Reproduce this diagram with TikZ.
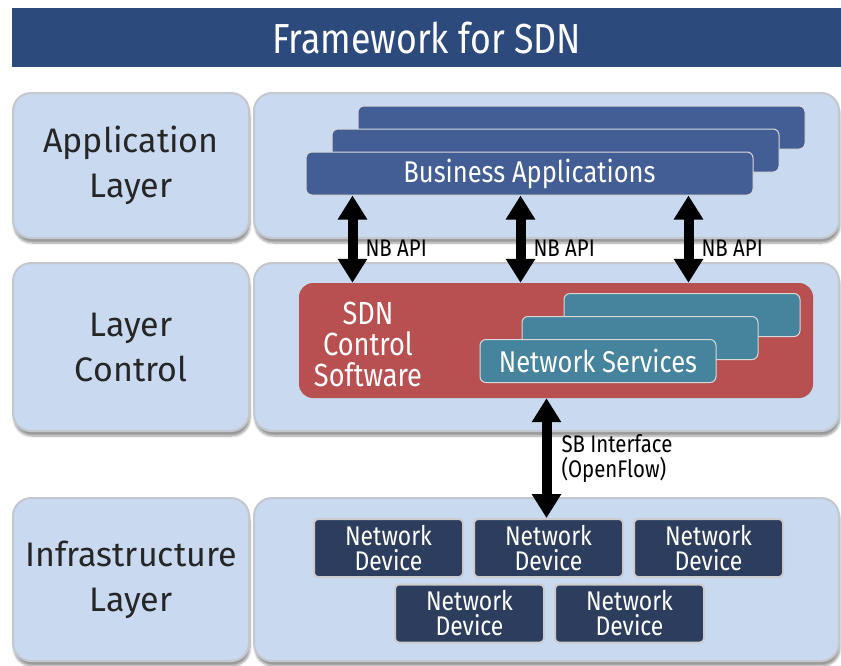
\documentclass[tikz,border=0pt]{standalone}
\usepackage{fontspec}
\setmainfont{Fira Sans}
\newfontfamily\narrowfont{Fira Sans}[FakeStretch=0.85]
\usepackage{tikz}
\usetikzlibrary{arrows.meta, positioning, calc, shadows.blur}
\definecolor{titleblue}{HTML}{2D4A7D}
\definecolor{layerfill}{HTML}{C9D9F0}
\definecolor{layerline}{HTML}{C4C8CE}
\definecolor{appblue}{HTML}{425E94}
\definecolor{ctrlred}{HTML}{B85052}
\definecolor{svcteal}{HTML}{45849C}
\definecolor{devnavy}{HTML}{2C3D5E}
\tikzstyle{layer} = [rectangle, rounded corners=18pt, draw=layerline, line width=2pt, fill=layerfill, blur shadow={shadow xshift=1pt, shadow yshift=-5pt, shadow opacity=40, shadow blur steps=6}, anchor=north west, align=center, text=black!85, font=\fontsize{34}{45}\selectfont]
\tikzstyle{card} = [rectangle, rounded corners=6pt, draw=white!70!gray, line width=1pt, minimum height=43pt, text=white, font=\narrowfont\fontsize{30}{32}\selectfont]
\tikzstyle{device} = [rectangle, rounded corners=4pt, draw=gray!40, line width=2pt, fill=devnavy, minimum width=149pt, minimum height=58pt, align=center, text=white, font=\narrowfont\fontsize{27}{25}\selectfont]
\tikzstyle{bigarrow} = [line width=10pt, {Triangle[width=28pt,length=24pt]}-{Triangle[width=28pt,length=24pt]}]
\tikzstyle{note} = [font=\narrowfont\fontsize{24}{25}\selectfont, align=left, inner sep=2pt]

\begin{document}
\begin{tikzpicture}[x=1pt, y=-1pt]
  \useasboundingbox (0,0) rectangle (841,665);
  \node[fill=titleblue, minimum width=829pt, minimum height=59pt, anchor=north west, text=white, font=\narrowfont\fontsize{42}{44}\selectfont] (title) at (12,8) {Framework for SDN};

  % layers
  \node[layer, minimum width=236pt, minimum height=145pt] (appL) at (12,92) {Application\\Layer};
  \node[layer, minimum width=585pt, minimum height=145pt] (appR) at (253,92) {};
  \node[layer, minimum width=236pt, minimum height=168pt] (ctlL) at (12,262) {Layer\\Control};
  \node[layer, minimum width=585pt, minimum height=168pt] (ctlR) at (253,262) {};
  \node[layer, minimum width=236pt, minimum height=163pt] (infL) at (12,497) {Infrastructure\\Layer};
  \node[layer, minimum width=585pt, minimum height=163pt] (infR) at (253,497) {};

  % application cards
  \node[card, fill=appblue, minimum width=447pt] (ba3) at (581.5,127.5) {};
  \node[card, fill=appblue, minimum width=447pt] (ba2) at ([shift={(-26,23)}]ba3.center) {};
  \node[card, fill=appblue, minimum width=447pt] (ba) at ([shift={(-26,23)}]ba2.center) {Business Applications};

  % control software
  \node[rectangle, rounded corners=14pt, fill=ctrlred, minimum width=514pt, minimum height=115pt] (sdn) at (556,340.5) {};
  \node[text=white, align=center, font=\narrowfont\fontsize{32}{31}\selectfont] (sdntxt) at (368,344) {SDN\\Control\\Software};
  \node[card, fill=svcteal, minimum width=236pt] (ns3) at (682,315) {};
  \node[card, fill=svcteal, minimum width=236pt] (ns2) at ([shift={(-42,23)}]ns3.center) {};
  \node[card, fill=svcteal, minimum width=236pt] (ns) at ([shift={(-42,23)}]ns2.center) {Network Services};

  % devices
  \node[device] (dev2) at (548.5,548) {Network\\Device};
  \node[device, left=9pt of dev2] (dev1) {Network\\Device};
  \node[device, right=9pt of dev2] (dev3) {Network\\Device};
  \node[device] (dev4) at (469.5,613.5) {Network\\Device};
  \node[device, right=9pt of dev4] (dev5) {Network\\Device};

  % interfaces
  \coordinate (nb1) at ([xshift=47pt]ba.south west);
  \coordinate (nb2) at ([xshift=215pt]ba.south west);
  \coordinate (nb3) at ([xshift=383pt]ba.south west);
  \draw[bigarrow] (nb1) -- node[pos=.6, right=6pt, note]{NB API} (nb1 |- sdn.north);
  \draw[bigarrow] (nb2) -- node[pos=.6, right=6pt, note]{NB API} (nb2 |- sdn.north);
  \draw[bigarrow] (nb3) -- node[pos=.6, right=6pt, note]{NB API} (nb3 |- sdn.north);
  \draw[bigarrow] ([xshift=-2pt]dev2.north |- sdn.south) -- node[midway, right=8pt, note]{SB Interface\\(OpenFlow)} ([xshift=-2pt]dev2.north);
\end{tikzpicture}
\end{document}
